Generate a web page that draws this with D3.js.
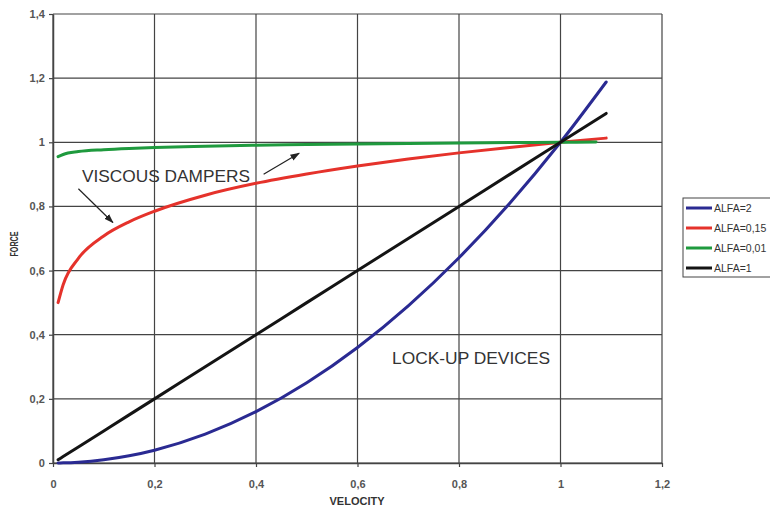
<!DOCTYPE html>
<html>
<head>
<meta charset="utf-8">
<script src="https://cdn.jsdelivr.net/npm/d3@7"></script>
<style>
  body { margin: 0; background: #fff; }
  svg { display: block; font-family: "Liberation Sans", Arial, sans-serif; }
</style>
</head>
<body>
<div id="chart"></div>
<script>
// values
const velocity = [0.01, 0.02, 0.05, 0.1, 0.15, 0.2, 0.3, 0.4, 0.5, 0.6, 0.7, 0.8, 0.9, 1.0, 1.09];
const alfa2 =    [0.0001, 0.0004, 0.0025, 0.01, 0.0225, 0.04, 0.09, 0.16, 0.25, 0.36, 0.49, 0.64, 0.81, 1.0, 1.188];
const alfa015 =  [0.50, 0.556, 0.638, 0.708, 0.752, 0.785, 0.835, 0.872, 0.901, 0.926, 0.948, 0.967, 0.984, 1.0, 1.013];
const alfa001 =  [0.955, 0.962, 0.971, 0.977, 0.981, 0.984, 0.988, 0.991, 0.993, 0.995, 0.996, 0.998, 0.999, 1.0, 1.001];
const alfa1 =    [0.01, 0.02, 0.05, 0.1, 0.15, 0.2, 0.3, 0.4, 0.5, 0.6, 0.7, 0.8, 0.9, 1.0, 1.09];
const greenVelocity = [0.01, 0.02, 0.05, 0.1, 0.15, 0.2, 0.3, 0.4, 0.5, 0.6, 0.7, 0.8, 0.9, 1.0, 1.07];

const xTicks = [0, 0.2, 0.4, 0.6, 0.8, 1, 1.2];
const yTicks = [0, 0.2, 0.4, 0.6, 0.8, 1, 1.2, 1.4];

const series = [
  { name: 'ALFA=2', xs: velocity, ys: alfa2, color: '#2a2a92' },
  { name: 'ALFA=0,15', xs: velocity, ys: alfa015, color: '#e5322b' },
  { name: 'ALFA=0,01', xs: greenVelocity, ys: alfa001, color: '#1f9a3e' },
  { name: 'ALFA=1', xs: velocity, ys: alfa1, color: '#141414' }
];

const width = 770, height = 509;
const plotLeft = 53, plotRight = 662, plotTop = 14, plotBottom = 463;

const svg = d3.select('#chart').append('svg')
  .attr('width', width)
  .attr('height', height);

const x = d3.scaleLinear().domain([0, 1.2]).range([plotLeft, plotRight]);
const y = d3.scaleLinear().domain([0, 1.4]).range([plotBottom, plotTop]);
const fmt = d => String(d).replace('.', ',');

// grid
svg.append('g')
  .selectAll('line')
  .data(xTicks)
  .enter().append('line')
  .attr('x1', d => x(d)).attr('x2', d => x(d))
  .attr('y1', plotTop).attr('y2', plotBottom)
  .attr('stroke', '#444').attr('stroke-width', 1.2);

svg.append('g')
  .selectAll('line')
  .data(yTicks)
  .enter().append('line')
  .attr('x1', plotLeft).attr('x2', plotRight)
  .attr('y1', d => y(d)).attr('y2', d => y(d))
  .attr('stroke', '#444').attr('stroke-width', 1.2);

// axes
const xAxis = svg.append('g')
  .attr('transform', `translate(0, ${plotBottom})`)
  .call(d3.axisBottom(x).tickValues(xTicks).tickFormat(fmt).tickSize(4).tickSizeOuter(0));
const yAxis = svg.append('g')
  .attr('transform', `translate(${plotLeft}, 0)`)
  .call(d3.axisLeft(y).tickValues(yTicks).tickFormat(fmt).tickSize(4).tickSizeOuter(0));

[xAxis, yAxis].forEach(a => {
  a.select('.domain').attr('stroke', '#444').attr('stroke-width', 1.5);
  a.selectAll('.tick line').attr('stroke', '#444').attr('stroke-width', 1.2);
  a.selectAll('text')
    .style('font-size', '11px')
    .style('font-weight', 'bold')
    .style('font-family', '"Liberation Sans", Arial, sans-serif')
    .style('fill', '#555');
});
xAxis.selectAll('text').attr('dy', '1.6em');
yAxis.selectAll('text').attr('dx', '-0.1em');

// curves
const line = d3.line().curve(d3.curveMonotoneX);
svg.append('g')
  .selectAll('path')
  .data(series)
  .enter().append('path')
  .attr('d', s => line(s.xs.map((v, i) => [x(v), y(s.ys[i])])))
  .attr('fill', 'none')
  .attr('stroke', s => s.color)
  .attr('stroke-width', 3)
  .attr('stroke-linejoin', 'round')
  .attr('stroke-linecap', 'round');

// axis titles
svg.append('text')
  .attr('x', 357).attr('y', 505)
  .attr('text-anchor', 'middle')
  .style('font-size', '11px').style('font-weight', 'bold').style('fill', '#333')
  .text('VELOCITY');

svg.append('text')
  .attr('transform', 'translate(18, 244) rotate(-90)')
  .attr('text-anchor', 'middle')
  .attr('textLength', 25).attr('lengthAdjust', 'spacingAndGlyphs')
  .style('font-size', '10px').style('font-weight', 'bold').style('fill', '#333')
  .text('FORCE');

// annotations
svg.append('defs').append('marker')
  .attr('id', 'arrow')
  .attr('viewBox', '0 0 10 10')
  .attr('refX', 9).attr('refY', 5)
  .attr('markerWidth', 8).attr('markerHeight', 8)
  .attr('orient', 'auto')
  .append('path')
  .attr('d', 'M0,1.5 L10,5 L0,8.5 Z')
  .attr('fill', '#222');

svg.append('text')
  .attr('x', 82).attr('y', 182)
  .attr('textLength', 168).attr('lengthAdjust', 'spacingAndGlyphs')
  .style('font-size', '17px').style('fill', '#333')
  .text('VISCOUS DAMPERS');

svg.append('text')
  .attr('x', 392).attr('y', 364)
  .attr('textLength', 158).attr('lengthAdjust', 'spacingAndGlyphs')
  .style('font-size', '17px').style('fill', '#333')
  .text('LOCK-UP DEVICES');

svg.append('line')
  .attr('x1', x(0.05)).attr('y1', y(0.855))
  .attr('x2', x(0.118)).attr('y2', y(0.75))
  .attr('stroke', '#222').attr('stroke-width', 1.2)
  .attr('marker-end', 'url(#arrow)');

svg.append('line')
  .attr('x1', x(0.415)).attr('y1', y(0.9))
  .attr('x2', x(0.485)).attr('y2', y(0.966))
  .attr('stroke', '#222').attr('stroke-width', 1.2)
  .attr('marker-end', 'url(#arrow)');

// legend (the right edge runs off the picture, as in the reference)
const legend = svg.append('g').attr('transform', 'translate(683, 198)');
legend.append('rect')
  .attr('width', 100).attr('height', 79)
  .attr('fill', '#fff').attr('stroke', '#444').attr('stroke-width', 1);

const entry = legend.selectAll('g.entry')
  .data(series)
  .enter().append('g')
  .attr('transform', (d, i) => `translate(0, ${10 + i * 20})`);
entry.append('line')
  .attr('x1', 3).attr('x2', 29)
  .attr('stroke', d => d.color).attr('stroke-width', 3);
entry.append('text')
  .attr('x', 31).attr('dy', '0.36em')
  .style('font-size', '10.5px').style('fill', '#333')
  .text(d => d.name);
</script>
</body>
</html>
